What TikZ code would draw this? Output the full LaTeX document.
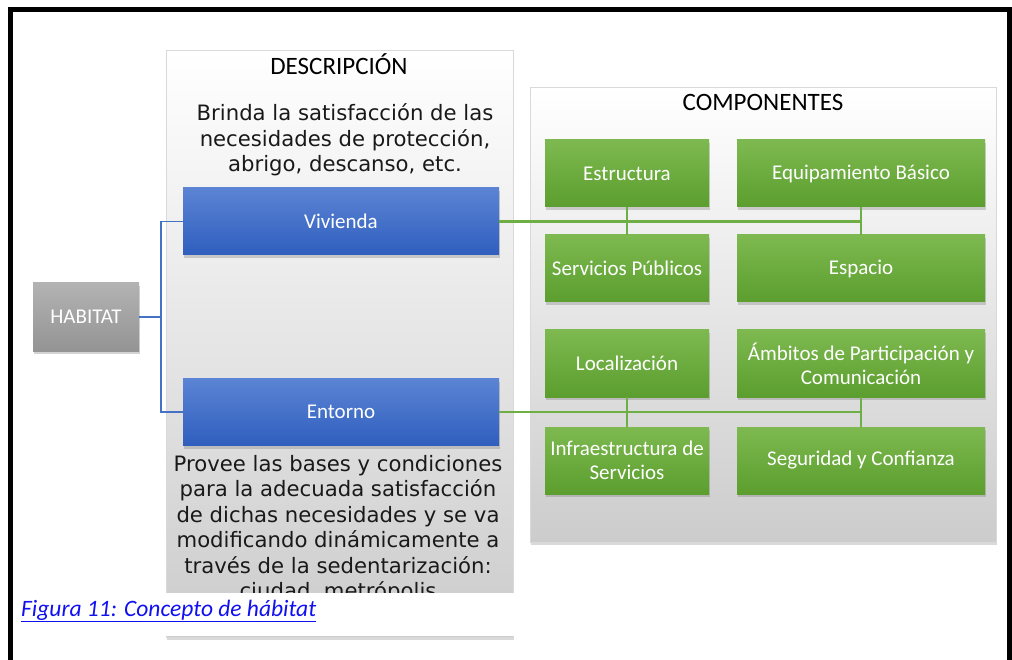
\documentclass[tikz,border=0pt]{standalone}
\usepackage{fontspec}
\setmainfont{Carlito}
\newfontfamily\verdana{DejaVu Sans}
\usepackage{xcolor}
\usetikzlibrary{positioning,shadows}

\definecolor{bluetop}{HTML}{5B84D4}
\definecolor{bluebot}{HTML}{2F5EBE}
\definecolor{greentop}{HTML}{7DB950}
\definecolor{greenbot}{HTML}{5C9E2E}
\definecolor{greenline}{HTML}{6FAE45}
\definecolor{blueline}{HTML}{4472C4}
\definecolor{captionblue}{HTML}{1010F0}

\begin{document}
\begin{tikzpicture}[x=1pt, y=-1pt,
  panel/.style={draw=black!15, top color=white, bottom color=black!20,
    drop shadow={shadow xshift=1pt, shadow yshift=-3pt, opacity=0.3}},
  box/.style={draw=none, text=white, align=center, font=\fontsize{21}{24}\selectfont,
    inner sep=2pt, drop shadow={shadow xshift=1pt, shadow yshift=-3pt, opacity=0.35}},
  habitatbox/.style={box, top color=black!30, bottom color=black!42,
    minimum width=106pt, minimum height=68pt},
  mainbox/.style={box, top color=bluetop, bottom color=bluebot,
    minimum width=316pt, minimum height=67pt},
  compbox/.style={box, top color=greentop, bottom color=greenbot,
    minimum width=164pt, minimum height=67pt},
  widebox/.style={compbox, minimum width=248pt},
  title/.style={font=\fontsize{25}{28}\selectfont, inner sep=0pt},
  desc/.style={font=\verdana\fontsize{21.2}{25.5}\selectfont, align=center,
    inner sep=0pt, text=black!90},
  blueconn/.style={draw=blueline, line width=1.6pt},
  greenconn/.style={draw=greenline, line width=2.2pt}
]
\useasboundingbox (0,0) rectangle (1012,660);

% Panels
\node[panel, minimum width=347pt, minimum height=587pt] (descpanel) at (339.5,343.5) {};
\node[panel, minimum width=466pt, minimum height=455pt] (comppanel) at (763,314.5) {};
\node[title] (desctitle) at (339,64) {DESCRIPCIÓN};
\node[title] (comptitle) at (763,102) {COMPONENTES};

% Description texts
\node[desc] (brinda) at (345,140) {Brinda la satisfacción de las\\necesidades de protección,\\abrigo, descanso, etc.};
\node[desc, anchor=north] (provee) at (338,455) {Provee las bases y condiciones\\para la adecuada satisfacción\\de dichas necesidades y se va\\modificando dinámicamente a\\través de la sedentarización:\\ciudad, metrópolis};

% Main boxes
\node[habitatbox] (habitat) at (86,317) {HABITAT};
\node[mainbox] (viv) at (341,221.5) {Vivienda};
\node[mainbox] (ent) at (341,412) {Entorno};

% Components
\node[compbox] (estr) at (627,173.5) {Estructura};
\node[widebox] (equip) at (861,173.5) {Equipamiento Básico};
\node[compbox] (serv) at (627,268.5) {Servicios Públicos};
\node[widebox] (esp) at (861,268.5) {Espacio};
\node[compbox] (loc) at (627,363.5) {Localización};
\node[widebox] (amb) at (861,363.5) {Ámbitos de Participación y\\Comunicación};
\node[compbox] (infra) at (627,460.5) {Infraestructura de\\Servicios};
\node[widebox] (seg) at (861,460.5) {Seguridad y Confianza};

% Connectors
\draw[blueconn] (habitat.east) -- ++(22,0) |- (viv.west);
\draw[blueconn] (habitat.east) -- ++(22,0) |- (ent.west);
\draw[greenconn] (viv.east) -- (viv.east -| equip.south);
\draw[greenconn] (estr.south) -- (serv.north);
\draw[greenconn] (equip.south) -- (esp.north);
\draw[greenconn] (ent.east) -- (ent.east -| amb.south);
\draw[greenconn] (loc.south) -- (infra.north);
\draw[greenconn] (amb.south) -- (seg.north);

% Caption
\fill[white] (13,593) rectangle (516,636);
\node[anchor=base west, inner sep=0pt, text=captionblue,
  font=\itshape\fontsize{23.5}{26}\selectfont] (caption) at (21,616)
  {\underline{Figura 11: Concepto de hábitat}};

% Frame
\draw[line width=5pt, miter limit=10] (10.5,660) -- (10.5,9.5) -- (1009.5,9.5) -- (1009.5,660);
\end{tikzpicture}
\end{document}
